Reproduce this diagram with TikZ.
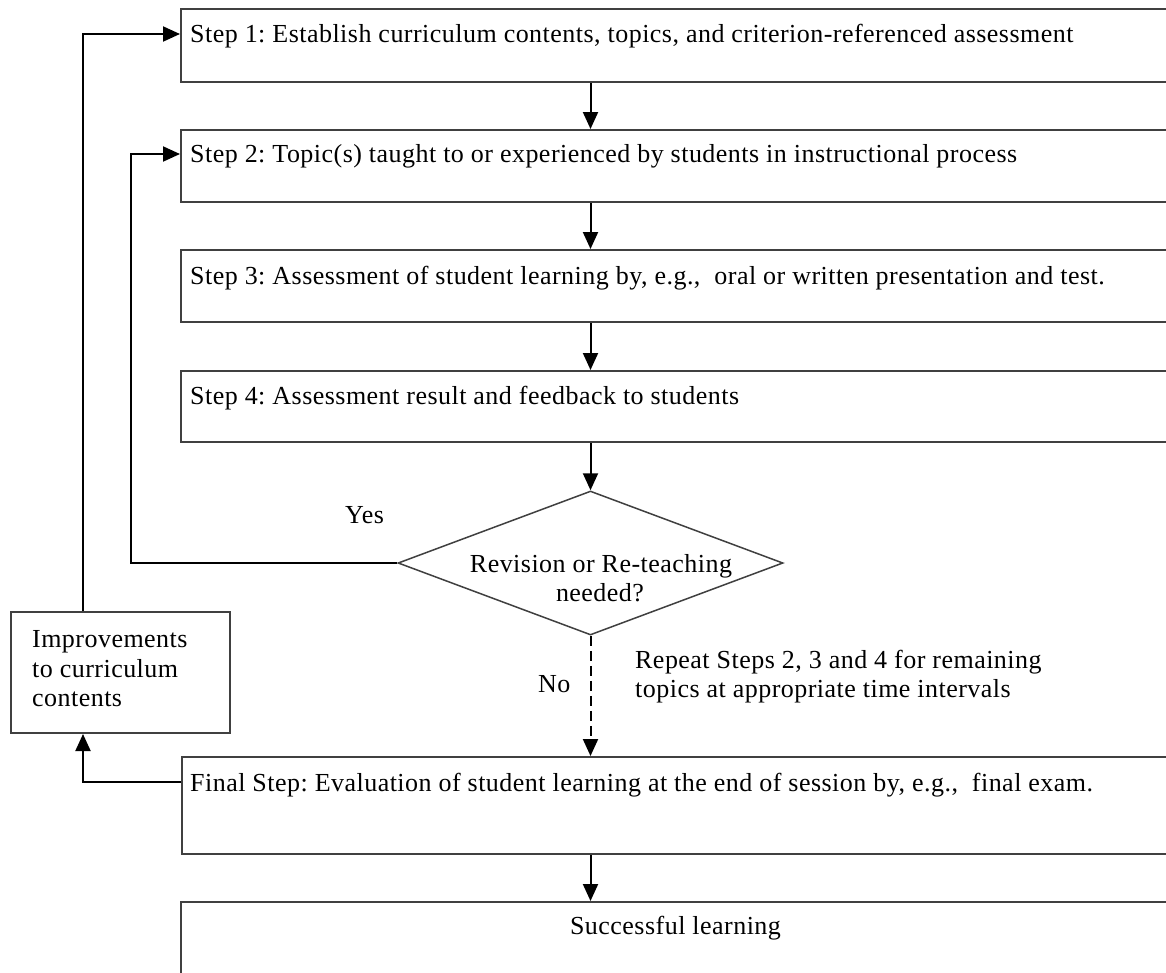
\documentclass[tikz,border=0pt]{standalone}
\usepackage{fontspec}
\setmainfont{Liberation Serif}[LetterSpace=1.8]
\usetikzlibrary{arrows.meta,shapes.geometric}
\definecolor{boxgray}{HTML}{404040}
\frenchspacing
\tikzset{
  stepbox/.style={draw=boxgray,line width=2pt,rectangle,inner sep=0pt,anchor=north west,minimum width=1100pt},
  txt/.style={anchor=base west,inner sep=0pt,font=\fontsize{26}{30}\selectfont},
  arr/.style={draw=black,line width=2pt,-{Triangle[length=17pt,width=15pt]}},
  decision/.style={draw=boxgray,line width=1.5pt,diamond,inner sep=0pt,minimum width=385pt,minimum height=144pt}
}
\begin{document}
\begin{tikzpicture}[x=1pt,y=-1pt]
\useasboundingbox (0,0) rectangle (1166,972);
\clip (0,0) rectangle (1166,972);
\fill[white] (0,0) rectangle (1166,972);
% boxes
\node[stepbox,minimum height=73pt] (b1) at (180,8) {};
\node[stepbox,minimum height=72pt] (b2) at (180,129) {};
\node[stepbox,minimum height=72pt] (b3) at (180,249) {};
\node[stepbox,minimum height=71pt] (b4) at (180,370) {};
\node[stepbox,minimum height=97pt] (fin) at (181,756) {};
\node[stepbox,minimum height=120pt] (succ) at (180,901) {};
\node[stepbox,minimum width=219pt,minimum height=121pt] (impr) at (10,611) {};
\node[decision] (dia) at (590.5,563) {};
% texts
\node[txt] (t1) at (190,42) {Step 1: Establish curriculum contents, topics, and criterion-referenced assessment};
\node[txt] (t2) at (190,162) {Step 2: Topic(s) taught to or experienced by students in instructional process};
\node[txt] (t3) at (190,284) {Step 3: Assessment of student learning by, e.g.,\ \ oral or written presentation and test.};
\node[txt] (t4) at (190,404) {Step 4: Assessment result and feedback to students};
\node[txt] (tf) at (190,791) {Final Step: Evaluation of student learning at the end of session by, e.g.,\ \ final exam.};
\node[txt,anchor=base] (ts) at (675.5,934) {Successful learning};
\node[txt,anchor=base] (td1) at (601,572) {Revision or Re-teaching};
\node[txt,anchor=base] (td2) at (600,601) {needed?};
\node[txt] (ti1) at (32,647) {Improvements};
\node[txt] (ti2) at (32,677) {to curriculum};
\node[txt] (ti3) at (32,706) {contents};
\node[txt] (tyes) at (345,523) {Yes};
\node[txt] (tno) at (538,692) {No};
\node[txt] (tr1) at (635,668) {Repeat Steps 2, 3 and 4\ for remaining};
\node[txt] (tr2) at (635,697) {topics at appropriate time intervals};
% helper coordinates
\coordinate (yesx) at (131,0);
\coordinate (leftx) at (83,0);
% connectors
\draw[arr] (b1.south -| dia.north) -- (b2.north -| dia.north);
\draw[arr] (b2.south -| dia.north) -- (b3.north -| dia.north);
\draw[arr] (b3.south -| dia.north) -- (b4.north -| dia.north);
\draw[arr] (b4.south -| dia.north) -- (dia.north);
\draw[arr] (dia.west) -- (dia.west -| yesx) |- ([yshift=12pt]b2.west);
\draw[arr,dash pattern=on 10pt off 5pt] (dia.south) -- (fin.north -| dia.south);
\draw[arr] (fin.south -| dia.south) -- (succ.north -| dia.south);
\draw[arr] ([yshift=23.5pt]fin.west) -| (impr.south -| leftx);
\draw[arr] (impr.north -| leftx) |- ([yshift=11.5pt]b1.west);
\end{tikzpicture}
\end{document}
